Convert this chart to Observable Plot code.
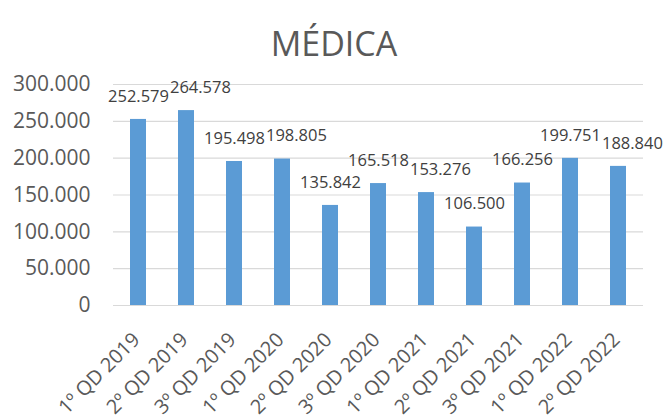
<!DOCTYPE html>
<html>
<head>
<meta charset="utf-8">
<script src="https://cdn.jsdelivr.net/npm/d3@7"></script>
<script src="https://cdn.jsdelivr.net/npm/@observablehq/plot@0.6"></script>
<style>
  html, body { margin: 0; padding: 0; background: #fff; }
  #chart svg { display: block; }
</style>
</head>
<body>
<div id="chart"></div>
<script>
const title = "MÉDICA";
const categories = ["1º QD 2019", "2º QD 2019", "3º QD 2019", "1º QD 2020", "2º QD 2020", "3º QD 2020", "1º QD 2021", "2º QD 2021", "3º QD 2021", "1º QD 2022", "2º QD 2022"];
const values = [252579, 264578, 195498, 198805, 135842, 165518, 153276, 106500, 166256, 199751, 188840];
const yTicks = [0, 50000, 100000, 150000, 200000, 250000, 300000];

const data = categories.map((c, i) => ({category: c, value: values[i]}));
const fmt = d3.formatLocale({decimal: ",", thousands: ".", grouping: [3], currency: ["", ""]}).format(",d");
const font = "'Open Sans', 'Liberation Sans', sans-serif";

const chart = Plot.plot({
  width: 665,
  height: 419,
  marginLeft: 113,
  marginRight: 22,
  marginTop: 84,
  marginBottom: 114,
  style: {fontFamily: font, background: "#fff", overflow: "visible"},
  x: {domain: categories, paddingInner: 0.67, paddingOuter: 0.335, axis: null},
  y: {domain: [0, 300000], axis: null},
  marks: [
    Plot.gridY(yTicks, {stroke: "#d9d9d9", strokeOpacity: 1, strokeWidth: 1.2}),
    Plot.axisY(yTicks, {tickSize: 0, tickPadding: 23, tickFormat: fmt, fontSize: 21, fill: "#595959", label: null}),
    Plot.barY(data, {x: "category", y: "value", fill: "#5B9BD5"}),
    Plot.text(data, {x: "category", y: "value", text: d => fmt(d.value), dy: -23, fontSize: 16.5, fill: "#404040"}),
    Plot.text(categories, {x: d => d, y: 0, rotate: -45, textAnchor: "end", dx: -2, dy: 31, fontSize: 20, fill: "#595959"}),
    Plot.text([title], {frameAnchor: "top", dx: -44.5, dy: -53, fontSize: 34, fill: "#595959"})
  ]
});
document.getElementById("chart").appendChild(chart);

// Like Excel: nudge a value label to the right when it collides with the previous one
const labelSet = new Set(values.map(fmt));
const labels = Array.from(chart.querySelectorAll("text"))
  .filter(t => labelSet.has(t.textContent))
  .sort((a, b) => a.getBoundingClientRect().left - b.getBoundingClientRect().left);
let prev = null;
for (const t of labels) {
  const r = t.getBoundingClientRect();
  if (prev) {
    const vOverlap = r.top < prev.bottom - 3 && r.bottom - 3 > prev.top;
    const hOverlap = r.left < prev.right + 1;
    if (vOverlap && hOverlap) {
      const shift = prev.right + 1 - r.left;
      t.setAttribute("transform", (t.getAttribute("transform") || "") + ` translate(${shift},0)`);
    }
  }
  prev = t.getBoundingClientRect();
}
</script>
</body>
</html>
